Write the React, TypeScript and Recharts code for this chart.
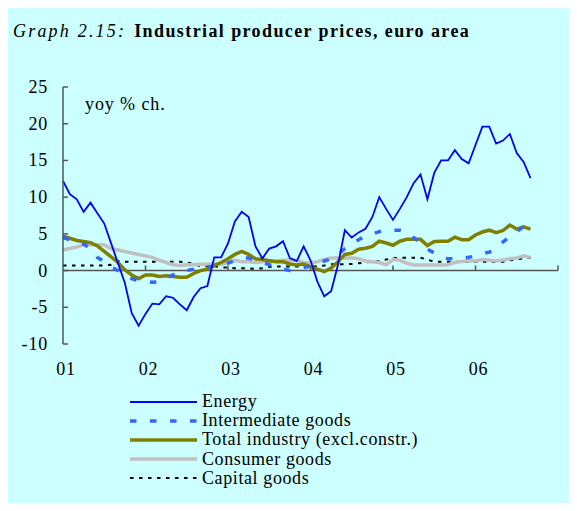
import { LineChart, Line, XAxis, YAxis, ReferenceLine } from "recharts";

// monthly, Jan 2001 .. Sep 2006 (yoy % change)
const yearLabels = ["01", "02", "03", "04", "05", "06", ""];
const xTicks = [0, 12, 24, 36, 48, 60, 72];
const yTicks = [-10, -5, 0, 5, 10, 15, 20, 25];

const energy = [
  12.2, 10.4, 9.7, 8.0, 9.25, 7.8, 6.4, 3.7, 1.0, -1.7,
  -5.8, -7.5, -5.9, -4.5, -4.6, -3.5, -3.7, -4.6, -5.4, -3.6,
  -2.4, -2.1, 1.8, 1.8, 3.7, 6.7, 8.0, 7.3, 3.3, 1.65,
  3.0, 3.3, 4.0, 1.7, 1.3, 3.3, 1.4, -1.5, -3.5, -2.8,
  0.8, 5.5, 4.5, 5.2, 5.7, 7.3, 10.0, 8.4, 6.9, 8.4,
  10.0, 11.9, 13.1, 9.7, 13.3, 15.0, 15.0, 16.4, 15.2, 14.6,
  17.1, 19.6, 19.6, 17.3, 17.7, 18.6, 16.0, 14.8, 12.6,
];

const intermediate = [
  4.5, 4.2, 3.9, 3.6, 3.0, 1.8, 1.2, 0.5, 0.0, -0.5,
  -1.1, -1.4, -1.5, -1.6, -1.5, -1.0, -0.6, -0.3, 0.0, 0.2,
  0.4, 0.5, 0.6, 0.7, 1.0, 1.4, 1.7, 1.7, 1.4, 1.1,
  0.8, 0.5, 0.2, 0.0, 0.2, 0.4, 0.6, 1.0, 1.3, 1.6,
  2.2, 3.0, 3.6, 4.2, 4.7, 5.0, 5.3, 5.5, 5.5, 5.5,
  5.2, 4.5, 3.8, 2.9, 2.4, 1.9, 1.6, 1.6, 1.7, 1.8,
  2.0, 2.3, 2.5, 3.0, 3.9, 4.6, 5.3, 6.0, 6.5,
];

const totalIndustry = [
  4.7, 4.4, 4.1, 3.95, 3.8, 3.35, 2.6, 1.85, 1.1, 0.1,
  -0.6, -1.1, -0.6, -0.6, -0.8, -0.7, -0.8, -0.9, -0.9, -0.4,
  0.0, 0.2, 0.7, 1.1, 1.6, 2.2, 2.6, 2.2, 1.6, 1.5,
  1.35, 1.2, 1.2, 0.9, 0.75, 0.9, 0.5, 0.2, -0.15, 0.35,
  1.2, 2.2, 2.35, 2.9, 3.05, 3.3, 4.0, 3.75, 3.45, 4.0,
  4.25, 4.25, 4.25, 3.4, 3.95, 4.0, 4.0, 4.55, 4.2, 4.2,
  4.85, 5.25, 5.5, 5.15, 5.45, 6.2, 5.65, 5.95, 5.65,
];

const consumer = [
  2.8, 3.0, 3.2, 3.5, 3.5, 3.5, 3.5, 3.0, 2.8, 2.6,
  2.4, 2.2, 2.0, 1.8, 1.4, 1.1, 0.8, 0.7, 0.8, 0.8,
  0.85, 0.85, 0.85, 0.85, 1.1, 1.4, 1.2, 1.2, 1.1, 1.2,
  1.3, 1.3, 1.4, 1.45, 1.4, 1.1, 1.05, 1.2, 1.5, 1.7,
  1.7, 1.7, 1.7, 1.6, 1.3, 1.2, 1.1, 0.8, 1.5, 1.4,
  1.0, 0.75, 0.75, 0.75, 0.75, 0.75, 0.8, 1.1, 1.25, 1.35,
  1.3, 1.5, 1.4, 1.3, 1.45, 1.6, 1.7, 2.0, 1.8,
];

const capital = [
  0.7, 0.7, 0.7, 0.7, 0.7, 0.7, 0.7, 0.8, 1.3, 1.2,
  1.2, 1.2, 1.2, 1.2, 1.2, 1.2, 1.2, 1.2, 1.1, 0.9,
  0.6, 0.6, 0.6, 0.45, 0.4, 0.3, 0.3, 0.3, 0.25, 0.3,
  0.5, 0.55, 0.55, 0.55, 0.55, 0.55, 0.55, 0.6, 0.7, 0.85,
  0.85, 0.85, 0.9, 1.0, 1.1, 1.2, 1.3, 1.5, 1.7, 1.75,
  1.75, 1.75, 1.75, 1.5, 1.2, 1.2, 1.2, 1.2, 1.2, 1.2,
  1.2, 1.2, 1.2, 1.2, 1.2, 1.4, 1.5, 1.7, 1.75,
];

const data = energy.map((v, i) => ({
  m: i,
  energy: v,
  intermediate: intermediate[i],
  total: totalIndustry[i],
  consumer: consumer[i],
  capital: capital[i],
}));

const series = [
  { key: "energy", name: "Energy", color: "#0000FF", width: 1.8, dash: undefined },
  { key: "intermediate", name: "Intermediate goods", color: "#3366FF", width: 3.5, dash: "6.5 13.5" },
  { key: "total", name: "Total industry (excl.constr.)", color: "#808000", width: 3.5, dash: undefined },
  { key: "consumer", name: "Consumer goods", color: "#C0C0C0", width: 3.5, dash: undefined },
  { key: "capital", name: "Capital goods", color: "#000000", width: 2, dash: "3.5 5.5" },
];
// back to front
const drawOrder = ["capital", "consumer", "total", "intermediate", "energy"];

const FONT = "'Liberation Serif', 'Times New Roman', serif";
const AXIS = "#555555";

function YTick({ x, y, payload }: any) {
  return (
    <g>
      <line x1={x} x2={x + 5} y1={y} y2={y} stroke={AXIS} strokeWidth={1.5} />
      <text x={x - 15} y={y} dy={6} textAnchor="end" fontSize={18} letterSpacing={0.8} fontFamily={FONT} fill="#000">
        {payload.value}
      </text>
    </g>
  );
}

function XTick({ x, y, index }: any) {
  return (
    <text x={x + 3} y={y + 31} textAnchor="middle" fontSize={18} letterSpacing={0.8} fontFamily={FONT} fill="#000">
      {yearLabels[index]}
    </text>
  );
}

export default function App() {
  return (
    <div style={{ position: "relative", width: 561, height: 495, background: "#CCFFFF", fontFamily: FONT, color: "#000" }}>
      <div style={{ position: "absolute", left: 5, top: 13, fontSize: 18, whiteSpace: "nowrap" }}>
        <i style={{ letterSpacing: 2.2 }}>Graph 2.15:</i>
        <b style={{ marginLeft: 8, letterSpacing: 1.4 }}>Industrial producer prices, euro area</b>
      </div>

      <div style={{ position: "absolute", left: 0, top: 0 }}>
        <LineChart width={561} height={495} data={data} margin={{ top: 79, right: 11, bottom: 129, left: 15 }}>
          <XAxis
            dataKey="m"
            type="number"
            domain={[0, 72]}
            ticks={xTicks}
            interval={0}
            axisLine={false}
            tickLine={false}
            tickSize={0}
            tickMargin={0}
            height={30}
            tick={<XTick />}
          />
          <YAxis
            domain={[-10, 25]}
            ticks={yTicks}
            interval={0}
            width={40}
            tickSize={0}
            tickMargin={0}
            tickLine={false}
            axisLine={{ stroke: AXIS, strokeWidth: 1.5 }}
            tick={<YTick />}
          />
          <ReferenceLine y={0} stroke={AXIS} strokeWidth={1.5} />
          {xTicks.slice(1).map((t) => (
            <ReferenceLine key={t} segment={[{ x: t, y: 0 }, { x: t, y: 0.7 }]} stroke={AXIS} strokeWidth={1.5} />
          ))}
          {drawOrder.map((k) => {
            const s = series.find((d) => d.key === k)!;
            return (
              <Line
                key={s.key}
                type="linear"
                dataKey={s.key}
                name={s.name}
                stroke={s.color}
                strokeWidth={s.width}
                strokeDasharray={s.dash}
                dot={false}
                activeDot={false}
                isAnimationActive={false}
              />
            );
          })}
        </LineChart>
      </div>

      <div style={{ position: "absolute", left: 77, top: 86, fontSize: 18, letterSpacing: 0.9 }}>yoy % ch.</div>

      <div style={{ position: "absolute", left: 122, top: 384 }}>
        {series.map((s) => (
          <div key={s.key} style={{ display: "flex", alignItems: "center", height: 19.2 }}>
            <svg width={67} height={8}>
              <line x1={0} x2={67} y1={4} y2={4} stroke={s.color} strokeWidth={s.width} strokeDasharray={s.dash} />
            </svg>
            <span style={{ marginLeft: 5, fontSize: 18, lineHeight: "19.2px", letterSpacing: 0.6 }}>{s.name}</span>
          </div>
        ))}
      </div>
    </div>
  );
}
